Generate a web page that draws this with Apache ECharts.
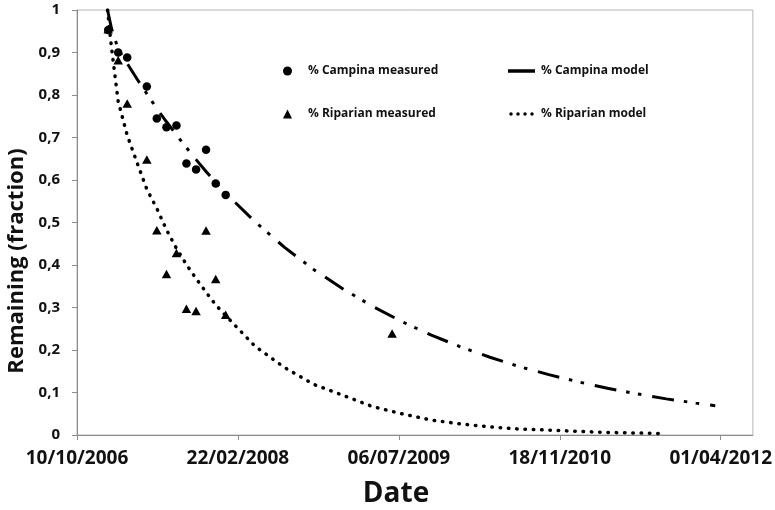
<!DOCTYPE html>
<html>
<head>
<meta charset="utf-8">
<script src="https://cdn.jsdelivr.net/npm/echarts@6/dist/echarts.min.js"></script>
<style>
  html, body { margin: 0; padding: 0; background: #fff; }
  #chart { width: 775px; height: 510px; }
</style>
</head>
<body>
<div id="chart"></div>
<script>
// Sampling dates of the litter bags (shared by both sites)
const sampleDates = ['2007-01-15','2007-02-15','2007-03-15','2007-05-15','2007-06-15','2007-07-15',
                     '2007-08-15','2007-09-15','2007-10-15','2007-11-15','2007-12-15','2008-01-15'];
const campinaMeasured = [0.953, 0.900, 0.888, 0.820, 0.745, 0.724, 0.728, 0.639, 0.625, 0.671, 0.592, 0.565];

const riparianDates = sampleDates.concat(['2009-06-15']);
const riparianMeasured = [0.955, 0.882, 0.780, 0.648, 0.482, 0.379, 0.428, 0.297, 0.292, 0.481, 0.367, 0.283, 0.239];

// Fitted decay curves
const campinaModelDates = ['2007-01-13','2007-01-25','2007-02-15','2007-03-15','2007-04-15','2007-05-15',
  '2007-06-15','2007-07-15','2007-08-15','2007-09-15','2007-10-15','2007-11-15','2007-12-15','2008-01-15',
  '2008-04-15','2008-07-15','2008-10-15','2009-01-15','2009-04-15','2009-07-15','2009-10-15','2010-01-15',
  '2010-04-15','2010-07-15','2010-10-15','2011-01-15','2011-04-15','2011-07-15','2011-10-15','2012-01-15',
  '2012-03-15'];
const campinaModel = [1.000, 0.957, 0.908, 0.874, 0.837, 0.803, 0.768, 0.737, 0.706, 0.676, 0.648, 0.620,
  0.594, 0.569, 0.502, 0.442, 0.389, 0.343, 0.303, 0.267, 0.235, 0.207, 0.183, 0.161, 0.142, 0.125, 0.110,
  0.097, 0.085, 0.075, 0.069];

const riparianModelDates = ['2007-01-13','2007-01-25','2007-02-15','2007-03-15','2007-04-15','2007-05-15',
  '2007-06-15','2007-07-15','2007-08-15','2007-09-15','2007-10-15','2007-11-15','2007-12-15','2008-01-15',
  '2008-04-15','2008-07-15','2008-10-15','2009-01-15','2009-04-15','2009-07-15','2009-10-15','2010-01-15',
  '2010-04-15','2010-07-15','2010-10-15','2011-01-15','2011-04-15','2011-07-15','2011-10-03'];
const riparianModel = [1.000, 0.913, 0.785, 0.705, 0.640, 0.578, 0.533, 0.483, 0.439, 0.401, 0.368, 0.336,
  0.306, 0.281, 0.209, 0.159, 0.119, 0.093, 0.067, 0.050, 0.035, 0.026, 0.019, 0.014, 0.0115, 0.0085,
  0.006, 0.0047, 0.0035];

// Date axis ticks (spreadsheet day serials, every 500 days)
const xTicks = [39000, 39500, 40000, 40500, 41000];
const xMin = 39000, xMax = 41100;
const yTicks = [0, 0.1, 0.2, 0.3, 0.4, 0.5, 0.6, 0.7, 0.8, 0.9, 1];

const EPOCH = Date.UTC(1899, 11, 30);
const DAY = 86400000;
function toSerial(s) {
  const [y, m, d] = s.split('-').map(Number);
  return Math.round((Date.UTC(y, m - 1, d) - EPOCH) / DAY);
}
function serialLabel(v) {
  const d = new Date(EPOCH + v * DAY);
  const p = n => String(n).padStart(2, '0');
  return p(d.getUTCDate()) + '/' + p(d.getUTCMonth() + 1) + '/' + d.getUTCFullYear();
}
const pairs = (dates, vals) => dates.map((d, i) => [toSerial(d), vals[i]]);

const FONT = 'Open Sans';
const AXIS_GRAY = '#8c8c8c';
const legendText = { fontFamily: FONT, fontWeight: 'bold', fontSize: 12, lineHeight: 14, color: '#111' };

// legend keys: a solid dash for the dash-dot model, four dots for the dotted model
const DASH_ICON = 'rect';
const DOTS_ICON = 'path://M0,2a2,2 0 1,0 4,0a2,2 0 1,0 -4,0zM8,2a2,2 0 1,0 4,0a2,2 0 1,0 -4,0z' +
                  'M16,2a2,2 0 1,0 4,0a2,2 0 1,0 -4,0zM24,2a2,2 0 1,0 4,0a2,2 0 1,0 -4,0z';

const chart = echarts.init(document.getElementById('chart'), null, { renderer: 'canvas' });
chart.setOption({
  animation: false,
  backgroundColor: '#fff',
  grid: { left: 77, right: 17, top: 10, bottom: 75, show: true, borderColor: '#b4b4b4', borderWidth: 1 },
  xAxis: {
    type: 'value', min: xMin, max: xMax, interval: 500,
    axisLine: { show: true, lineStyle: { color: AXIS_GRAY, width: 1 } },
    axisTick: { show: true, length: 5, inside: false, customValues: xTicks, lineStyle: { color: AXIS_GRAY } },
    splitLine: { show: false },
    axisLabel: {
      customValues: xTicks, margin: 14,
      formatter: v => serialLabel(v),
      fontFamily: FONT, fontWeight: 'bold', fontSize: 19, color: '#111'
    }
  },
  yAxis: {
    type: 'value', min: 0, max: 1, interval: 0.1,
    axisLine: { show: true, lineStyle: { color: AXIS_GRAY, width: 1 } },
    axisTick: { show: true, length: 5, inside: false, customValues: yTicks, lineStyle: { color: AXIS_GRAY } },
    splitLine: { show: false },
    axisLabel: {
      customValues: yTicks, margin: 17,
      formatter: v => (v === 0 ? '0' : v === 1 ? '1' : v.toFixed(1).replace('.', ',')),
      fontFamily: FONT, fontWeight: 'bold', fontSize: 15, color: '#111'
    }
  },
  legend: [
    {
      orient: 'vertical', left: 283, top: 64, padding: 0, itemGap: 29,
      itemWidth: 9, itemHeight: 9,
      data: [
        { name: '% Campina measured', icon: 'circle' },
        { name: '% Riparian measured', icon: 'triangle' }
      ],
      textStyle: Object.assign({ padding: [0, 0, 0, 11] }, legendText)
    },
    {
      orient: 'vertical', left: 508, top: 64, padding: 0, itemGap: 29,
      itemWidth: 27, itemHeight: 3.5,
      data: [
        { name: '% Campina model', icon: DASH_ICON },
        { name: '% Riparian model', icon: DOTS_ICON }
      ],
      textStyle: Object.assign({ padding: [0, 0, 0, 1] }, legendText)
    }
  ],
  graphic: [
    {
      type: 'text', x: 396, y: 494,
      style: { text: 'Date', fontFamily: FONT, fontWeight: 'bold', fontSize: 28, fill: '#111',
               align: 'center', verticalAlign: 'middle' }
    },
    {
      type: 'text', x: 17, y: 261, rotation: Math.PI / 2,
      style: { text: 'Remaining (fraction)', fontFamily: FONT, fontWeight: 'bold', fontSize: 22, fill: '#111',
               align: 'center', verticalAlign: 'middle' }
    }
  ],
  series: [
    {
      name: '% Campina model', type: 'line', showSymbol: false, symbol: 'none',
      data: pairs(campinaModelDates, campinaModel),
      lineStyle: { color: '#000', width: 3, type: [22, 10, 3.5, 8.5, 3.5, 11], cap: 'butt' },
      itemStyle: { color: '#000' }, z: 2
    },
    {
      name: '% Riparian model', type: 'line', showSymbol: false, symbol: 'none',
      data: pairs(riparianModelDates, riparianModel),
      lineStyle: { color: '#000', width: 3.5, type: [0.5, 7.8], cap: 'round' },
      itemStyle: { color: '#000' }, z: 2
    },
    {
      name: '% Campina measured', type: 'scatter', symbol: 'circle', symbolSize: 8.5,
      data: pairs(sampleDates, campinaMeasured),
      itemStyle: { color: '#000', opacity: 1 }, z: 3
    },
    {
      name: '% Riparian measured', type: 'scatter', symbol: 'triangle', symbolSize: [9.5, 8.5],
      data: pairs(riparianDates, riparianMeasured),
      itemStyle: { color: '#000', opacity: 1 }, z: 3
    }
  ]
});
</script>
</body>
</html>
